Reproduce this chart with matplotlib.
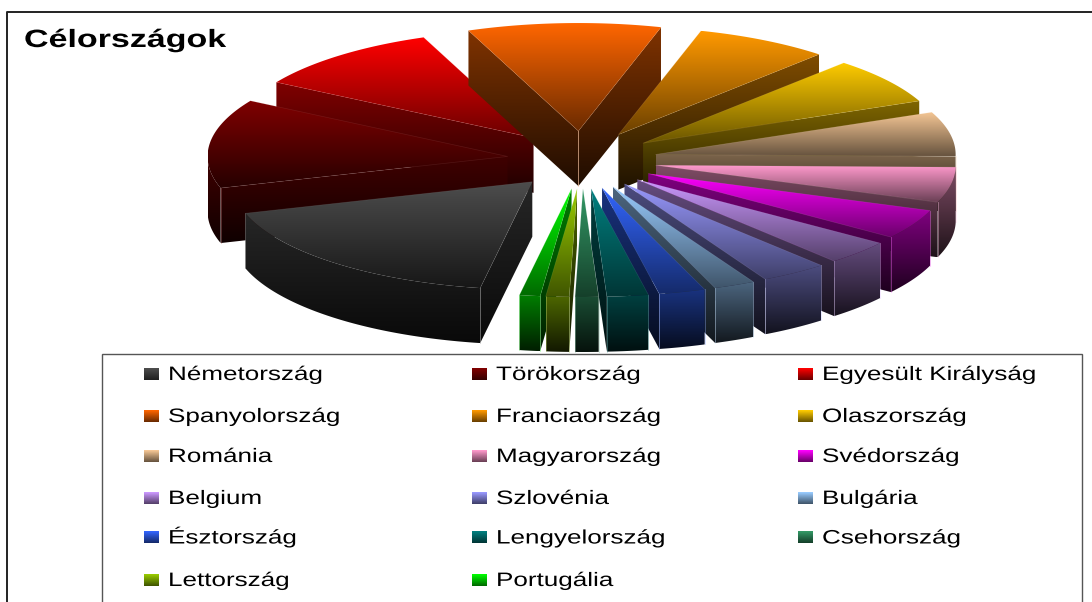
import numpy as np
import matplotlib
matplotlib.use("Agg")
import matplotlib.pyplot as plt
from matplotlib.patches import Polygon, Rectangle
from matplotlib.patheffects import AbstractPathEffect
from matplotlib.transforms import Affine2D

plt.rcParams['font.family'] = ['Liberation Sans', 'DejaVu Sans']

countries = ["Németország", "Törökország", "Egyesült Királyság", "Spanyolország",
             "Franciaország", "Olaszország", "Románia", "Magyarország", "Svédország",
             "Belgium", "Szlovénia", "Bulgária", "Észtország", "Lengyelország",
             "Csehország", "Lettország", "Portugália"]
values = [63, 48, 37.5, 37.5, 26, 25, 24, 19, 16, 13, 13, 8, 9, 8, 4.5, 4.5, 4]
colors = ["#4d4d4d", "#800000", "#ff0000", "#ff6600", "#ff9900", "#ffcc00", "#f7c896",
          "#ff99cc", "#ff00ff", "#cc99ff", "#9999ff", "#99ccff", "#3366ff", "#008080",
          "#339966", "#99cc00", "#00ff00"]
title = "Célországok"
first_angle = 190.0
draw_order = [2, 1, 3, 16, 15, 14, 4, 5, 6, 7, 8, 9, 10, 11, 12, 13, 0]


class Stretch(AbstractPathEffect):
    def __init__(self, sx):
        super().__init__()
        self.sx = sx

    def draw_path(self, renderer, gc, tpath, affine, rgbFace=None):
        m = affine.get_matrix().copy()
        m[0, 0] *= self.sx
        m[0, 1] *= self.sx
        renderer.draw_path(gc, tpath, Affine2D(m), rgbFace)


fig = plt.figure(figsize=(10.92, 6.02), dpi=100)
ax = fig.add_axes([0, 0, 1, 1])
ax.set_xlim(0, 1092)
ax.set_ylim(602, 0)
ax.axis("off")

CX, CY = 582, 160
A, B = 300, 108
EX, EY = 75, 29
T = 55
z = [10]


def grad(poly, rgb, hi, lo, y0=None, y1=None):
    poly = np.asarray(poly)
    xa, xb = poly[:, 0].min(), poly[:, 0].max()
    ya = poly[:, 1].min() if y0 is None else y0
    yb = poly[:, 1].max() if y1 is None else y1
    f = np.linspace(hi, lo, 64)[:, None, None]
    im = ax.imshow(f * np.array(rgb)[None, None, :], extent=(xa, xb, yb, ya), aspect="auto",
                   interpolation="bilinear", zorder=z[0])
    p = Polygon(poly, closed=True, transform=ax.transData, fc="none", ec="none")
    im.set_clip_path(p)
    z[0] += 1


def slice3d(a0, a1, color, lo_top):
    rgb = np.array(matplotlib.colors.to_rgb(color))
    mid = np.radians((a0 + a1) / 2)
    ax_, ay_ = CX + EX * np.sin(mid), CY - EY * np.cos(mid)
    th = np.radians(np.linspace(a0, a1, 60))
    xs, ys = ax_ + A * np.sin(th), ay_ - B * np.cos(th)
    arc = np.column_stack([xs, ys])
    apex = np.array([ax_, ay_])
    top = np.vstack([apex, arc])
    ymax = top[:, 1].max()
    d = np.array([0, T])
    hi_w, lo_w = 0.50, 0.12
    walls = []
    if arc[0, 0] < ax_:
        walls.append(np.array([apex, arc[0], arc[0] + d, apex + d]))
    if arc[-1, 0] > ax_:
        walls.append(np.array([arc[-1], apex, apex + d, arc[-1] + d]))
    for w in walls:
        grad(w, rgb, hi_w, lo_w, None, ymax + T)
    deg = np.degrees(th) % 360
    mask = (deg > 90) & (deg < 270)
    if mask.sum() > 1:
        seg = arc[mask]
        w = np.vstack([seg, (seg + d)[::-1]])
        grad(w, rgb, hi_w, lo_w, None, ymax + T)
    light = 0.55 * rgb + 0.45
    corners = [(arc[0], deg[0]), (arc[-1], deg[-1])]
    if len(walls) == 2:
        corners.append((apex, 180.0))
    for p, a in corners:
        if 90 < a < 270:
            ax.plot([p[0], p[0]], [p[1], p[1] + T], color=light, lw=0.6, alpha=0.45, zorder=z[0])
    z[0] += 1
    grad(top, rgb, 1.0, lo_top)
    ax.plot([arc[0, 0], ax_, arc[-1, 0]], [arc[0, 1], ay_, arc[-1, 1]], color=light, lw=0.5,
            alpha=0.18, zorder=z[0])
    z[0] += 1


edges = first_angle + np.concatenate([[0], np.cumsum(values)]) * 360.0 / np.sum(values)
for i in draw_order:
    slice3d(edges[i], edges[i + 1], colors[i], 0.3 if i < 2 else 0.42)

# outer frame and legend box
ax.plot([6.5, 6.5, 1092], [602, 11.5, 11.5], color="#222222", lw=1.4, zorder=900)
ax.add_patch(Rectangle((101.5, 353.5), 980, 260, fc="white", ec="#555555", lw=1, zorder=901))

t = ax.text(24, 47, title, fontsize=18, fontweight="bold", color="black", ha="left",
            va="baseline", zorder=950)
t.set_path_effects([Stretch(1.36)])

col_x = [144, 472, 798]
row_y = [374, 416, 456, 498, 537.5, 580]
for i, name in enumerate(countries):
    r, c = divmod(i, 3)
    x, y = col_x[c], row_y[r]
    rgb = np.array(matplotlib.colors.to_rgb(colors[i]))
    f = np.linspace(1, 0.42, 16)[:, None, None]
    ax.imshow(f * rgb[None, None, :], extent=(x, x + 15, y + 6, y - 6), aspect="auto",
              interpolation="bilinear", zorder=910)
    tx = ax.text(x + 24, y + 6, name, fontsize=14, color="black", ha="left", va="baseline", zorder=950)
    tx.set_path_effects([Stretch(1.34)])

ax.set_xlim(0, 1092)
ax.set_ylim(602, 0)
fig.savefig("out.png", dpi=100, facecolor="white")
